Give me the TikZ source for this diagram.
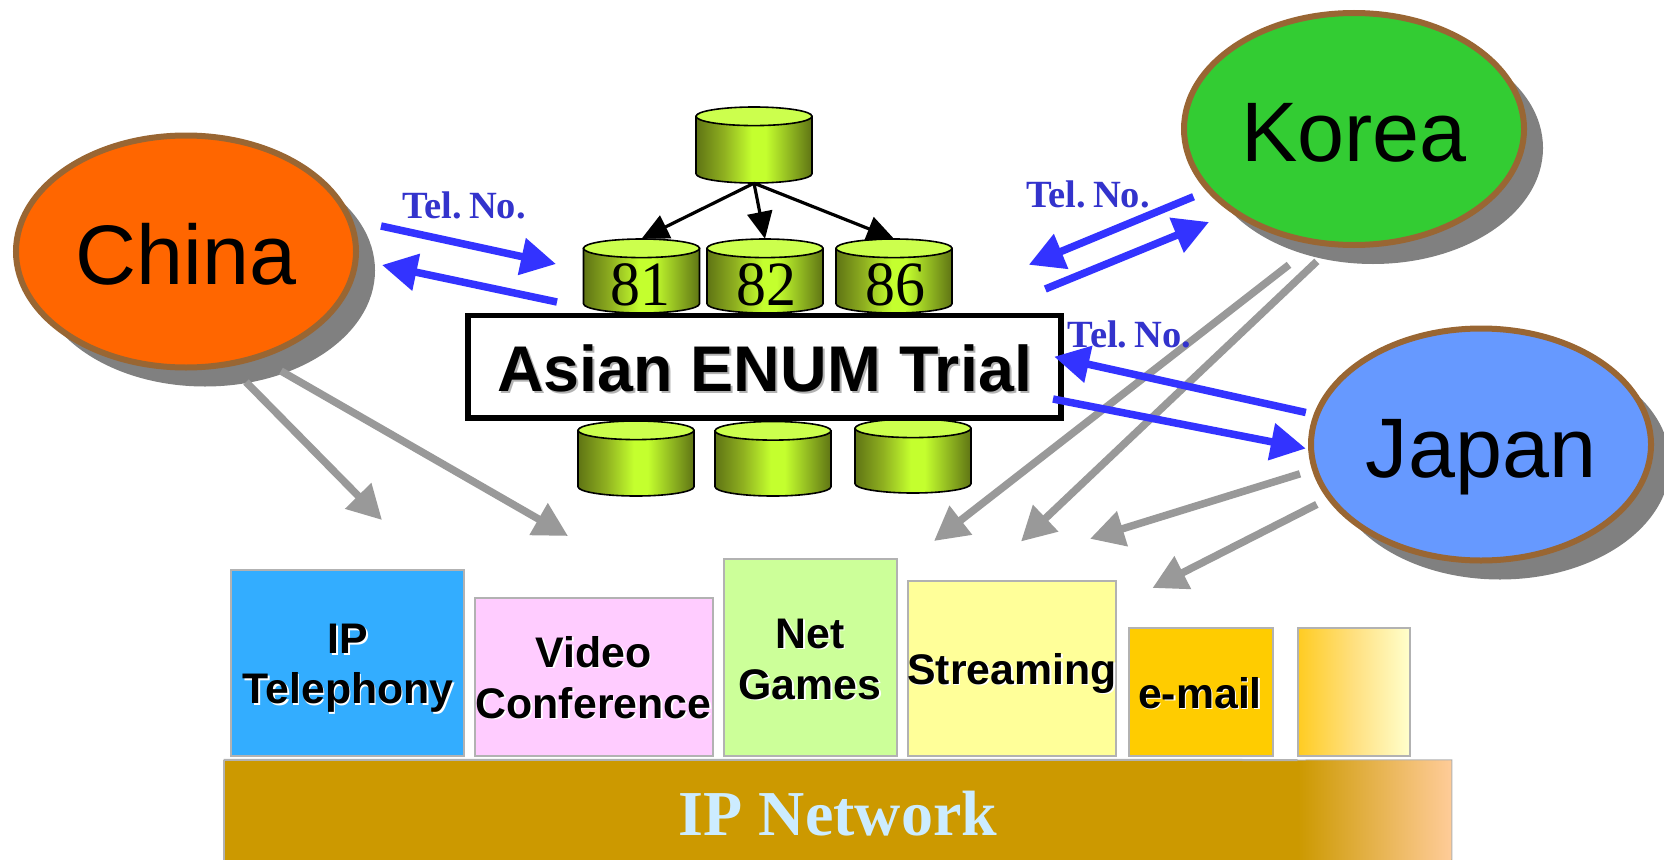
\documentclass[tikz,border=0pt]{standalone}
\usepackage{fontspec}
\setmainfont{Liberation Sans}
\newfontfamily\timesf{Liberation Serif}
\usetikzlibrary{shapes.geometric,arrows.meta,shadows}
\definecolor{bordbrown}{HTML}{996633}
\definecolor{shad}{HTML}{808080}
\definecolor{chinac}{HTML}{FF6600}
\definecolor{koreac}{HTML}{33CC33}
\definecolor{japanc}{HTML}{6699FF}
\definecolor{blueA}{HTML}{3333FF}
\definecolor{telc}{HTML}{3333CC}
\definecolor{greyA}{HTML}{999999}
\definecolor{cyldark}{HTML}{5F7414}
\definecolor{cylmid}{HTML}{8FB020}
\definecolor{cylbright}{HTML}{C4FF2E}
\definecolor{cyltopc}{HTML}{CCFF4D}
\definecolor{boxline}{HTML}{B2B2B2}
\definecolor{netc}{HTML}{CC9900}
\definecolor{netend}{HTML}{FFCC99}
\definecolor{nettext}{HTML}{CCECFF}
\pgfdeclarehorizontalshading{cylshade}{100bp}{color(0bp)=(cyldark); color(25bp)=(cyldark); color(37bp)=(cylmid); color(49bp)=(cylbright); color(55bp)=(cylbright); color(75bp)=(cyldark); color(100bp)=(cyldark)}
\newcommand{\fsz}[1]{\fontsize{#1pt}{#1pt}\selectfont}
\tikzset{
  country/.style={ellipse,draw=bordbrown,line width=6pt,inner sep=0pt,
    minimum width=340pt,minimum height=232pt,text=black,font=\fsz{84.5},text depth=0pt,
    general shadow={fill=shad,shadow xshift=19pt,shadow yshift=-19pt}},
  bluearrow/.style={draw=blueA,line width=7.5pt,-{Triangle[length=35pt,width=36pt,fill=blueA]}},
  greyarrow/.style={draw=greyA,line width=7.5pt,-{Triangle[length=34pt,width=35pt,fill=greyA]}},
  blackarrow/.style={draw=black,line width=3.2pt,-{Triangle[length=27pt,width=25pt,fill=black]}},
  tellabel/.style={anchor=base,text=telc,font=\timesf\bfseries\fsz{38.5}},
  cylnum/.style={anchor=base,text=black,font=\timesf\fsz{63}},
  svcbox/.style={rectangle,draw=boxline,line width=2pt,inner sep=0pt},
  svctext/.style={anchor=base,text=black,font=\bfseries\fsz{42.8}},
  svcshadow/.style={anchor=base,text=white,font=\bfseries\fsz{42.8}},
  cylframe/.style={rectangle,inner sep=0pt,minimum width=116pt},
}
% name, centre x, top y, bottom y
\newcommand{\cylinder}[4]{%
  \node[cylframe,minimum height={#4-#3}] (#1) at (#2,{(#3+#4)/2}) {};
  \path[draw=black,line width=1.6pt,shading=cylshade]
    ({#2-58},{#3+9.3}) -- ({#2-58},{#4-9.3})
    arc[start angle=180,end angle=360,x radius=58pt,y radius=9.3pt]
    -- ({#2+58},{#3+9.3}) -- cycle;
  \path[draw=black,line width=1.6pt,fill=cyltopc]
    (#2,{#3+9.3}) ellipse[x radius=58pt,y radius=9.3pt];
}
\newcommand{\svclabel}[4]{%
  \node[svcshadow] (#1s) at ({#2+1.6},{#3+1.6}) {#4};
  \node[svctext] (#1) at (#2,#3) {#4};
}
\newcommand{\telno}{Tel.\kern-2.5pt\ No.}
\begin{document}
\begin{tikzpicture}[x=1pt,y=-1pt]
\useasboundingbox (0,0) rectangle (1664,859);
\clip (0,0) rectangle (1664,859);
\fill[white] (0,0) rectangle (1664,859);

% countries
\node[country,fill=chinac,text height=65pt] (china) at (186,251.5) {China};
\node[country,fill=koreac,text height=65pt] (korea) at (1354,129) {Korea};
\node[country,fill=japanc,text height=65pt] (japan) at (1481,444.5) {Japan};

% cylinders
\cylinder{root}{754}{107}{183}
\cylinder{c81}{641.5}{239}{313}
\cylinder{c82}{765}{239}{313}
\cylinder{c86}{894}{239}{313}
\cylinder{d1}{636}{421}{496}
\cylinder{d2}{773}{421.5}{496}
\cylinder{d3}{913}{419}{493}
\node[cylnum] (n81) at (640,305) {\scalebox{0.95}[1]{81}};
\node[cylnum] (n82) at (766,305) {\scalebox{0.95}[1]{82}};
\node[cylnum] (n86) at (895,305) {\scalebox{0.95}[1]{86}};

\draw[blackarrow] (root.south) -- (c81.north);
\draw[blackarrow] (root.south) -- (c82.north);
\draw[blackarrow] (root.south) -- (c86.north);

% central box
\node[rectangle,draw=black,fill=white,line width=5.5pt,minimum width=593pt,minimum height=102.5pt,inner sep=0pt] (enum) at (764.5,366.75) {};
\node[anchor=base,text=boxline,font=\bfseries\fsz{64.6}] (enumshadow) at (766.5,393.7) {Asian ENUM Trial};
\node[anchor=base,text=black,font=\bfseries\fsz{64.6}] (enumtext) at (764.5,391.7) {Asian ENUM Trial};

% service boxes
\node[svcbox,fill={rgb,255:red,51;green,173;blue,255},minimum width=233pt,minimum height=185.7pt] (tel) at (347.5,662.85) {};
\node[svcbox,fill={rgb,255:red,255;green,204;blue,255},minimum width=238.3pt,minimum height=158pt] (vid) at (593.85,676.7) {};
\node[svcbox,fill={rgb,255:red,204;green,255;blue,153},minimum width=173pt,minimum height=196.7pt] (game) at (810.5,657.35) {};
\node[svcbox,fill={rgb,255:red,255;green,255;blue,153},minimum width=207.6pt,minimum height=174.7pt] (stream) at (1012.2,668.35) {};
\node[svcbox,fill={rgb,255:red,255;green,204;blue,0},minimum width=144.9pt,minimum height=128pt] (mail) at (1200.95,691.7) {};
\node[svcbox,left color={rgb,255:red,255;green,204;blue,34},right color={rgb,255:red,255;green,255;blue,204},middle color={rgb,255:red,255;green,224;blue,128},minimum width=111.5pt,minimum height=128pt] (more) at (1353.75,691.7) {};

\svclabel{lip}{348}{653.5}{IP}
\svclabel{ltel}{348}{703.5}{Telephony}
\svclabel{lvid}{593.5}{667}{Video}
\svclabel{lconf}{593.5}{718}{Conference}
\svclabel{lnet}{810}{648}{Net}
\svclabel{lgame}{810}{699}{Games}
\svclabel{lstream}{1012}{684}{Streaming}
\svclabel{lmail}{1200}{708}{e-mail}

% IP network
\node[rectangle,fill=netc,inner sep=0pt,minimum width=1228pt,minimum height=110pt] (net) at (837.7,815) {};
\shade[left color=netc,right color=netend] (1297.7,760) rectangle (1451.6,870);
\draw[boxline,line width=2pt] (net.north west) -- (net.south west);
\draw[boxline,line width=2pt] (net.north west) -- (1297.7,760);
\draw[boxline,line width=1pt] (1297.7,760) -- (net.north east) -- (net.south east);
\node[anchor=base,text=nettext,font=\timesf\bfseries\fsz{64}] (nettitle) at (838,835) {IP Network};

% free ends of the arrows
\coordinate (gc1a) at (246,382); \coordinate (gc1b) at (382,520);
\coordinate (gc2a) at (281,371); \coordinate (gc2b) at (568,536);
\coordinate (gk1a) at (1289,264.8); \coordinate (gk1b) at (934,541);
\coordinate (gk2a) at (1316.8,261.4); \coordinate (gk2b) at (1021,541.5);
\coordinate (gj1a) at (1300,473.8); \coordinate (gj1b) at (1090,538.8);
\coordinate (gj2a) at (1316.8,504.4); \coordinate (gj2b) at (1152.5,588);
\coordinate (bc1a) at (381,226); \coordinate (bc1b) at (556,264);
\coordinate (bc2a) at (557,302); \coordinate (bc2b) at (382,265);
\coordinate (bk1a) at (1193.5,196.7); \coordinate (bk1b) at (1028.8,264.8);
\coordinate (bk2a) at (1045.3,289); \coordinate (bk2b) at (1209,222);
\coordinate (bj1a) at (1305.8,412.5); \coordinate (bj1b) at (1054.2,356.7);
\coordinate (bj2a) at (1053,399); \coordinate (bj2b) at (1305.8,448.5);

\draw[greyarrow] (gc1a) -- (gc1b);
\draw[greyarrow] (gc2a) -- (gc2b);
\draw[greyarrow] (gk1a) -- (gk1b);
\draw[greyarrow] (gk2a) -- (gk2b);
\draw[greyarrow] (gj1a) -- (gj1b);
\draw[greyarrow] (gj2a) -- (gj2b);

\draw[bluearrow] (bc1a) -- (bc1b);
\draw[bluearrow] (bc2a) -- (bc2b);
\draw[bluearrow] (bk1a) -- (bk1b);
\draw[bluearrow] (bk2a) -- (bk2b);
\draw[bluearrow] (bj1a) -- (bj1b);
\draw[bluearrow] (bj2a) -- (bj2b);

\node[tellabel] (tel1) at (464,218) {\telno};
\node[tellabel] (tel2) at (1088,207) {\telno};
\node[tellabel] (tel3) at (1129.5,347) {\telno};
\end{tikzpicture}
\end{document}
